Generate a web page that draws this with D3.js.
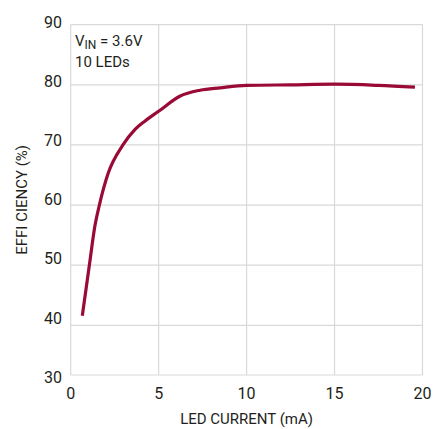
<!DOCTYPE html>
<html>
<head>
<meta charset="utf-8">
<script src="https://cdn.jsdelivr.net/npm/d3@7/dist/d3.min.js"></script>
<style>
  html, body { margin: 0; padding: 0; background: #fff; }
  text { font-family: Roboto, "Liberation Sans", sans-serif; fill: #231f20; }
</style>
</head>
<body>
<svg id="chart" width="433" height="429"></svg>
<script>
// ---- data ----
const currentMA = [0.66, 1.06, 1.38, 1.63, 2.12, 2.97, 3.66, 4.23, 5.0, 6.2, 7.35, 8.5, 10.0, 12.5, 15.0, 17.5, 19.57];
const efficiency = [41.6, 50.0, 56.6, 60.0, 65.2, 70.0, 72.6, 74.0, 75.6, 78.1, 79.1, 79.5, 79.9, 80.0, 80.1, 79.9, 79.6];
const xTicks = [0, 5, 10, 15, 20];
const yTicks = [30, 40, 50, 60, 70, 80, 90];
const xTitle = "LED CURRENT (mA)";
const yTitle = "EFFI CIENCY (%)";

const svg = d3.select("#chart");

const x = d3.scaleLinear().domain([0, 20]).range([70.7, 422.5]);
// grid of the original is slightly uneven at the bottom
const y = d3.scaleLinear().domain([30, 40, 90]).range([375, 325.3, 24.7]);
const yLab = d3.scaleLinear().domain([30, 90]).range([377, 22]);

const grid = svg.append("g").attr("stroke", "#d9d9d9").attr("stroke-width", 1.2).attr("fill", "none");
grid.selectAll("line.v").data(xTicks).join("line")
  .attr("class", "v")
  .attr("x1", d => x(d)).attr("x2", d => x(d))
  .attr("y1", y(90)).attr("y2", y(30));
grid.selectAll("line.h").data(yTicks).join("line")
  .attr("class", "h")
  .attr("x1", x(0)).attr("x2", x(20))
  .attr("y1", d => y(d)).attr("y2", d => y(d));

// tick labels
svg.append("g").selectAll("text").data(xTicks).join("text")
  .attr("x", d => x(d)).attr("y", 399)
  .attr("text-anchor", "middle").attr("font-size", 16)
  .text(d => d);
svg.append("g").selectAll("text").data(yTicks).join("text")
  .attr("x", 62).attr("y", d => yLab(d) + 5.8)
  .attr("text-anchor", "end").attr("font-size", 16)
  .text(d => d);

// axis titles
svg.append("text")
  .attr("x", (x(0) + x(20)) / 2).attr("y", 424)
  .attr("text-anchor", "middle").attr("font-size", 15)
  .text(xTitle);
svg.append("text")
  .attr("transform", `translate(27,${(y(30) + y(90)) / 2}) rotate(-90)`)
  .attr("text-anchor", "middle").attr("font-size", 15)
  .text(yTitle);

// annotation
const ann = svg.append("text").attr("x", 75).attr("y", 46).attr("font-size", 15);
ann.append("tspan").text("V");
ann.append("tspan").attr("dy", 3).attr("font-size", 12).text("IN");
ann.append("tspan").attr("dy", -3).text(" = 3.6V");
svg.append("text").attr("x", 75).attr("y", 67).attr("font-size", 15).text("10 LEDs");

// curve
const line = d3.line()
  .x((d, i) => x(currentMA[i]))
  .y(d => y(d))
  .curve(d3.curveMonotoneX);
svg.append("path")
  .attr("d", line(efficiency))
  .attr("fill", "none")
  .attr("stroke", "#9a0a36")
  .attr("stroke-width", 3.2)
  .attr("stroke-linecap", "butt")
  .attr("stroke-linejoin", "round");
</script>
</body>
</html>
